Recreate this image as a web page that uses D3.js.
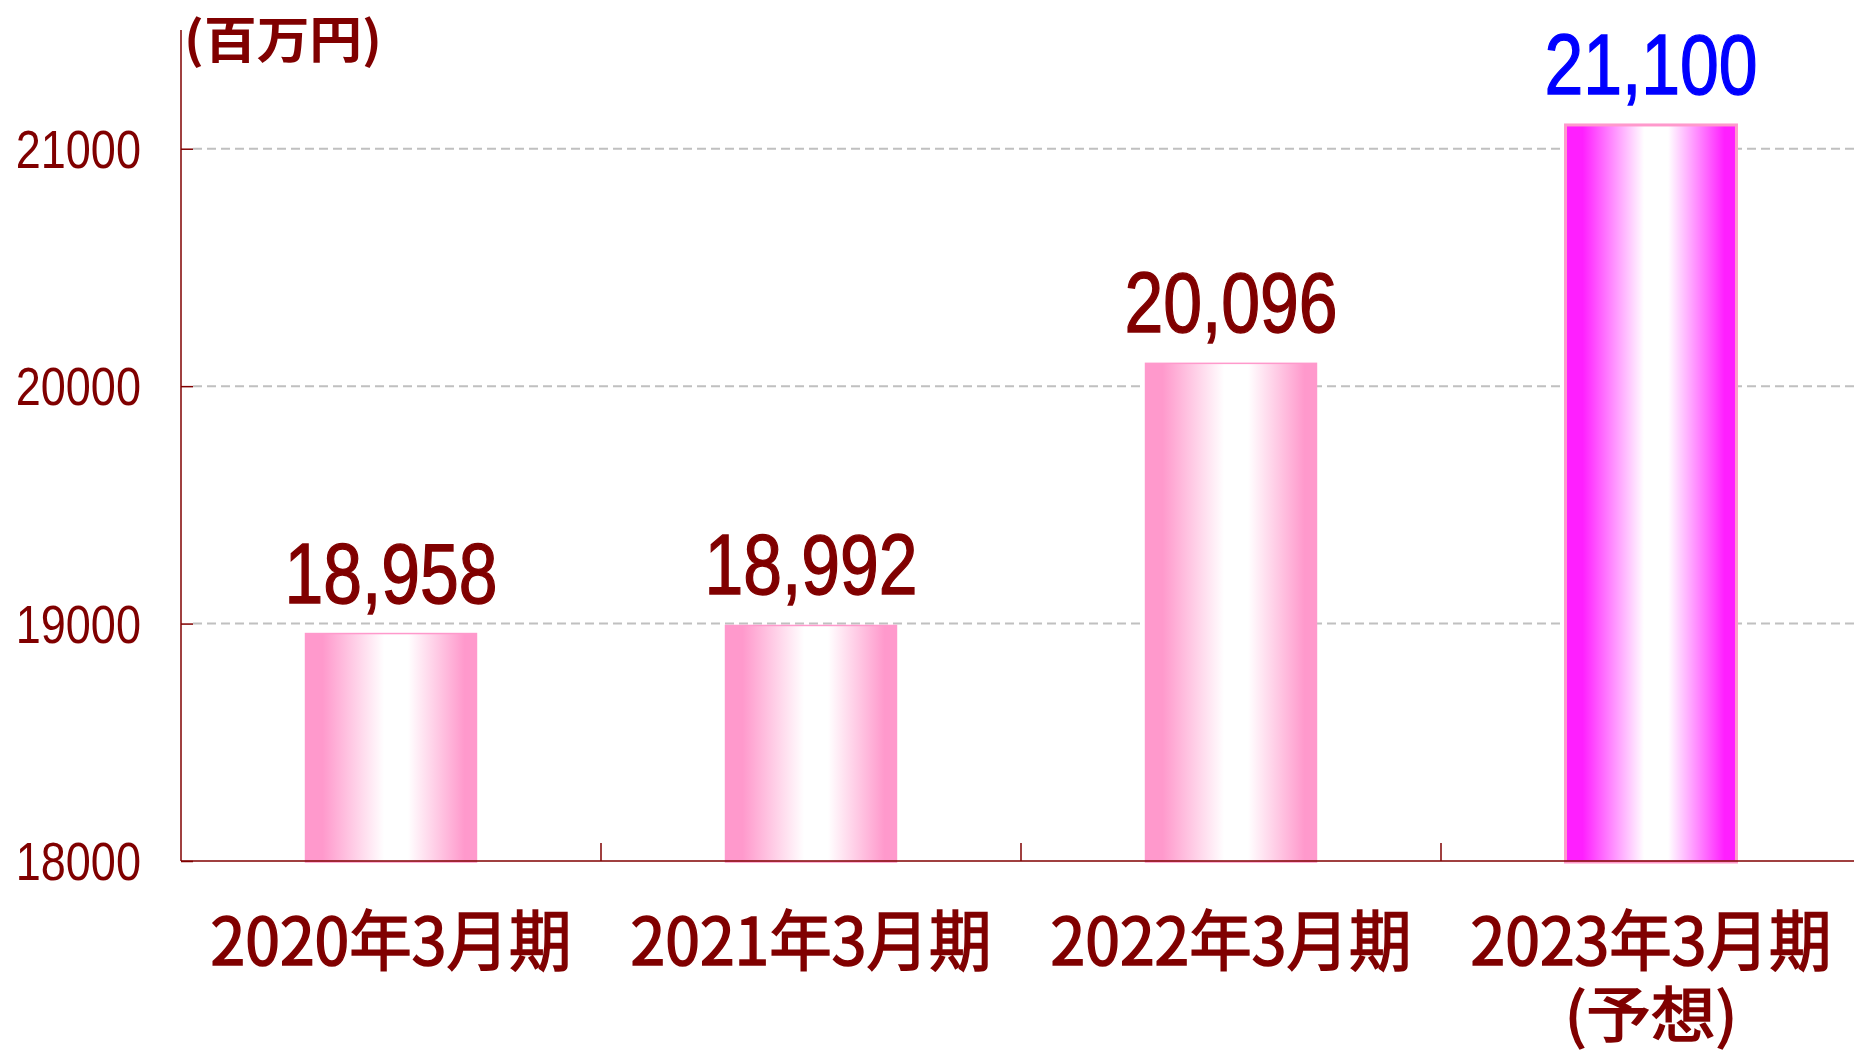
<!DOCTYPE html>
<html><head><meta charset="utf-8">
<script src="https://cdn.jsdelivr.net/npm/d3@7"></script>
<style>html,body{margin:0;padding:0;background:#fff;overflow:hidden}</style>
</head><body>
<svg id="chart" width="1854" height="1052"></svg>
<script>
const categories = ["2020年3月期", "2021年3月期", "2022年3月期", "2023年3月期"];
const subLabels = ["", "", "", "(予想)"];
const values = [18958, 18992, 20096, 21100];
const valueLabels = ["18,958", "18,992", "20,096", "21,100"];
const forecast = [false, false, false, true];
const yTicks = [18000, 19000, 20000, 21000];
const unitLabel = "(百万円)";

const svg = d3.select("#chart");
const W = 1854, H = 1052;
const axisX = 181, baseY = 861, topY = 30;
const dark = "#800000";

const y = d3.scaleLinear().domain([18000, 21500]).range([baseY, topY]);
const x = d3.scaleBand().domain(categories).range([axisX, axisX + 1680])
  .paddingInner(0.593).paddingOuter(0.2965);
const xb = d3.scaleBand().domain(categories).range([axisX, axisX + 1680]).padding(0);

const defs = svg.append("defs");
function grad(id, edge) {
  const g = defs.append("linearGradient").attr("id", id).attr("x1", "0%").attr("x2", "100%").attr("y1", "0%").attr("y2", "0%");
  [[0, edge], [0.1, edge], [0.46, "#ffffff"], [0.6, "#ffffff"], [0.93, edge], [1, edge]]
    .forEach(([o, c]) => g.append("stop").attr("offset", o).attr("stop-color", c));
}
grad("gPink", "#ff99cc");
grad("gMag", "#ff1fff");

// gridlines
svg.append("g").selectAll("line").data(yTicks.filter(d => d > 18000)).join("line")
  .attr("x1", axisX + 12).attr("x2", W).attr("y1", d => y(d)).attr("y2", d => y(d))
  .attr("stroke", "#c0c0c0").attr("stroke-width", 2).attr("stroke-dasharray", "9,5");

// bars
svg.append("g").selectAll("rect").data(values).join("rect")
  .attr("x", (d, i) => x(categories[i]))
  .attr("width", x.bandwidth())
  .attr("y", d => y(d))
  .attr("height", d => baseY + 1 - y(d))
  .attr("fill", (d, i) => forecast[i] ? "url(#gMag)" : "url(#gPink)")
  .attr("stroke", "#ff99cc")
  .attr("stroke-width", (d, i) => forecast[i] ? 3 : 1.5);

// y axis
const yAxis = d3.axisRight(y).tickValues(yTicks).tickSize(12).tickFormat("");
const ga = svg.append("g").attr("transform", `translate(${axisX},0)`).call(yAxis);
ga.select(".domain").remove();
ga.selectAll(".tick line").attr("stroke", dark).attr("stroke-width", 1.5);
svg.append("line").attr("x1", axisX).attr("x2", axisX).attr("y1", topY).attr("y2", baseY)
  .attr("stroke", dark).attr("stroke-width", 1.5);

// y tick labels
svg.append("g").selectAll("text").data(yTicks).join("text")
  .attr("x", 141).attr("y", d => y(d) + 19)
  .attr("text-anchor", "end")
  .attr("font-family", "Liberation Sans, Arial, sans-serif")
  .attr("font-size", 53).attr("fill", dark)
  .text(d => d)
  .each(function () { const l = this.getComputedTextLength(); d3.select(this).attr("textLength", l * 0.85).attr("lengthAdjust", "spacingAndGlyphs"); });

// x axis baseline and category ticks
svg.append("line").attr("x1", axisX).attr("x2", W).attr("y1", baseY).attr("y2", baseY)
  .attr("stroke", dark).attr("stroke-width", 1.5);
svg.append("g").selectAll("line").data(categories.slice(1)).join("line")
  .attr("x1", d => xb(d)).attr("x2", d => xb(d)).attr("y1", baseY).attr("y2", baseY - 18)
  .attr("stroke", dark).attr("stroke-width", 1.5);

// value labels
svg.append("g").selectAll("text").data(values).join("text")
  .attr("x", (d, i) => x(categories[i]) + x.bandwidth() / 2)
  .attr("y", d => y(d) - 31)
  .attr("text-anchor", "middle")
  .attr("font-family", "Liberation Sans, Arial, sans-serif")
  .attr("font-size", 85)
  .attr("fill", (d, i) => forecast[i] ? "#0000ff" : dark)
  .attr("stroke", (d, i) => forecast[i] ? "#0000ff" : dark)
  .attr("stroke-width", 1.4)
  .text((d, i) => valueLabels[i])
  .each(function () { const l = this.getComputedTextLength(); d3.select(this).attr("textLength", l * 0.82).attr("lengthAdjust", "spacingAndGlyphs"); });

// category labels
const cjk = "'Noto Sans CJK JP', 'Noto Sans CJK SC', sans-serif";
svg.append("g").selectAll("text").data(categories).join("text")
  .attr("x", d => x(d) + x.bandwidth() / 2)
  .attr("y", 965)
  .attr("text-anchor", "middle")
  .attr("font-family", cjk).attr("font-weight", "normal")
  .attr("font-size", 66).attr("fill", dark)
  .attr("stroke", dark).attr("stroke-width", 1.6)
  .text(d => d)
  .attr("textLength", 361).attr("lengthAdjust", "spacingAndGlyphs");

svg.append("g").selectAll("text").data(subLabels.map((s, i) => ({ s, c: categories[i] })).filter(d => d.s)).join("text")
  .attr("x", d => x(d.c) + x.bandwidth() / 2)
  .attr("y", 1037)
  .attr("text-anchor", "middle")
  .attr("font-family", cjk).attr("font-weight", "normal")
  .attr("font-size", 60).attr("fill", dark)
  .attr("stroke", dark).attr("stroke-width", 1.6)
  .text(d => d.s)
  .attr("textLength", 173).attr("lengthAdjust", "spacingAndGlyphs");

// unit label
svg.append("text").attr("x", 184).attr("y", 58)
  .attr("font-family", cjk).attr("font-weight", "bold")
  .attr("font-size", 50).attr("fill", dark)
  .text(unitLabel)
  .attr("textLength", 198).attr("lengthAdjust", "spacingAndGlyphs");
</script>
</body></html>
